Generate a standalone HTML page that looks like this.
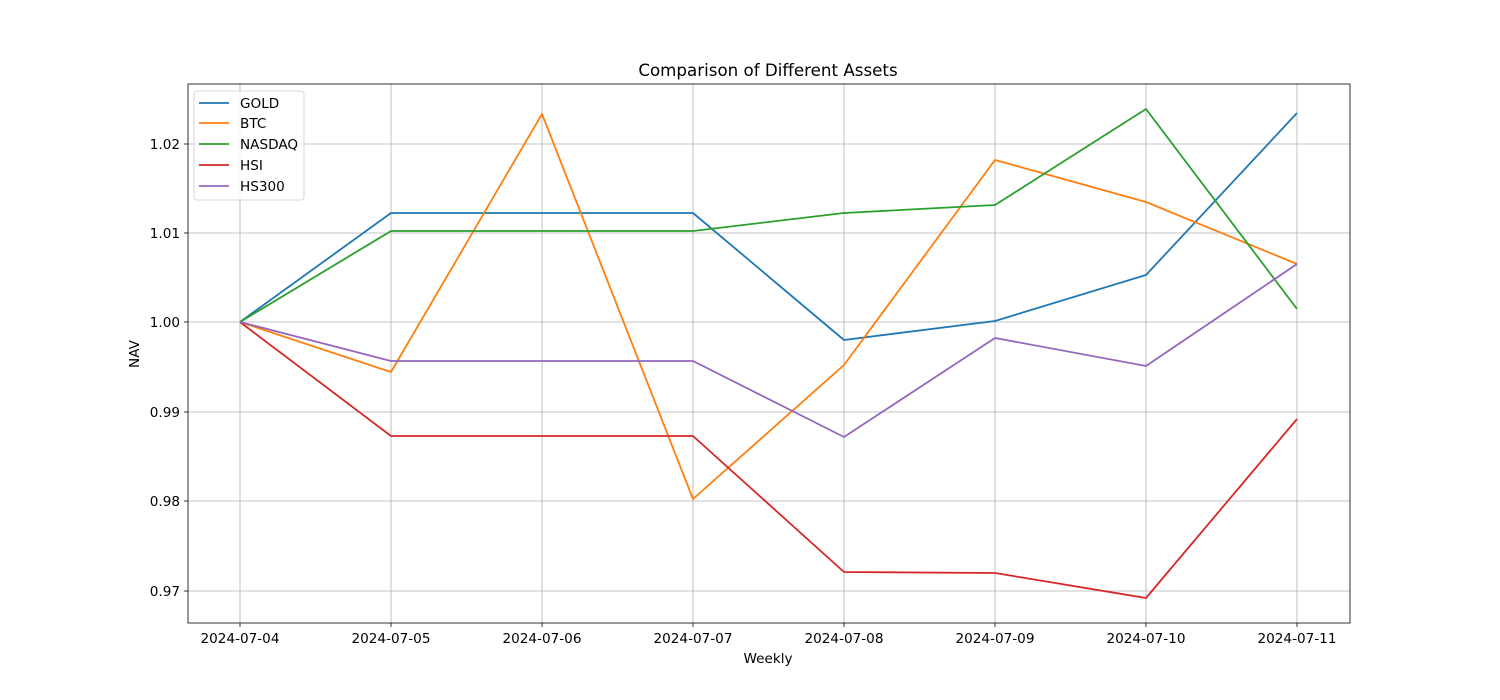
<!DOCTYPE html>
<html><head><meta charset="utf-8"><style>body{margin:0;background:#fff}svg{display:block}text{font-family:"DejaVu Sans","Liberation Sans",sans-serif;fill:#000}</style></head>
<body>
<svg width="1500" height="700" viewBox="0 0 1500 700" xmlns="http://www.w3.org/2000/svg">
<rect width="1500" height="700" fill="#fff"/>
<g stroke="#b0b0b0" stroke-width="0.8">
<line x1="240" y1="84" x2="240" y2="623"/><line x1="391" y1="84" x2="391" y2="623"/><line x1="542" y1="84" x2="542" y2="623"/><line x1="693" y1="84" x2="693" y2="623"/><line x1="844" y1="84" x2="844" y2="623"/><line x1="995" y1="84" x2="995" y2="623"/><line x1="1146" y1="84" x2="1146" y2="623"/><line x1="1297" y1="84" x2="1297" y2="623"/>
<line x1="188" y1="144" x2="1350" y2="144"/><line x1="188" y1="233" x2="1350" y2="233"/><line x1="188" y1="322" x2="1350" y2="322"/><line x1="188" y1="412" x2="1350" y2="412"/><line x1="188" y1="501" x2="1350" y2="501"/><line x1="188" y1="591" x2="1350" y2="591"/>
</g>
<g fill="none" stroke-width="1.8" stroke-linejoin="round">
<polyline stroke="#1f77b4" points="240,322 391,213 542,213 693,213 844,340 995,321 1146,275 1297,113"/>
<polyline stroke="#ff7f0e" points="240,322 391,372 542,114 693,499 844,365 995,160 1146,202 1297,264"/>
<polyline stroke="#2ca02c" points="240,322 391,231 542,231 693,231 844,213 995,205 1146,109 1297,309"/>
<polyline stroke="#d62728" points="240,322 391,436 542,436 693,436 844,572 995,573 1146,598 1297,419"/>
<polyline stroke="#9467bd" points="240,322 391,361 542,361 693,361 844,437 995,338 1146,366 1297,264"/>
</g>
<rect x="188" y="84" width="1162" height="539" fill="none" stroke="#000" stroke-width="0.8"/>
<g stroke="#000" stroke-width="0.8">
<line x1="240" y1="623" x2="240" y2="627"/><line x1="391" y1="623" x2="391" y2="627"/><line x1="542" y1="623" x2="542" y2="627"/><line x1="693" y1="623" x2="693" y2="627"/><line x1="844" y1="623" x2="844" y2="627"/><line x1="995" y1="623" x2="995" y2="627"/><line x1="1146" y1="623" x2="1146" y2="627"/><line x1="1297" y1="623" x2="1297" y2="627"/>
<line x1="184" y1="144" x2="188" y2="144"/><line x1="184" y1="233" x2="188" y2="233"/><line x1="184" y1="322" x2="188" y2="322"/><line x1="184" y1="412" x2="188" y2="412"/><line x1="184" y1="501" x2="188" y2="501"/><line x1="184" y1="591" x2="188" y2="591"/>
</g>
<g font-size="13.6" text-anchor="middle">
<text x="240" y="643">2024-07-04</text><text x="391" y="643">2024-07-05</text><text x="542" y="643">2024-07-06</text><text x="693" y="643">2024-07-07</text><text x="844" y="643">2024-07-08</text><text x="995" y="643">2024-07-09</text><text x="1146" y="643">2024-07-10</text><text x="1297" y="643">2024-07-11</text>
<text x="768" y="663">Weekly</text>
<text x="768" y="76" font-size="16.7">Comparison of Different Assets</text>
<text x="0" y="0" transform="translate(139,354) rotate(-90)">NAV</text>
</g>
<g font-size="13.6" text-anchor="end">
<text x="180" y="149">1.02</text><text x="180" y="238">1.01</text><text x="180" y="327">1.00</text><text x="180" y="417">0.99</text><text x="180" y="506">0.98</text><text x="180" y="596">0.97</text>
</g>
<rect x="194" y="91" width="110" height="109" rx="3" fill="#fff" fill-opacity="0.8" stroke="#ccc" stroke-width="0.8"/>
<g stroke-width="1.8">
<line x1="199" y1="103" x2="229" y2="103" stroke="#1f77b4"/>
<line x1="199" y1="123" x2="229" y2="123" stroke="#ff7f0e"/>
<line x1="199" y1="144" x2="229" y2="144" stroke="#2ca02c"/>
<line x1="199" y1="165" x2="229" y2="165" stroke="#d62728"/>
<line x1="199" y1="186" x2="229" y2="186" stroke="#9467bd"/>
</g>
<g font-size="13.6">
<text x="240" y="108">GOLD</text><text x="240" y="128">BTC</text><text x="240" y="149">NASDAQ</text><text x="240" y="170">HSI</text><text x="240" y="191">HS300</text>
</g>
</svg>
</body></html>
